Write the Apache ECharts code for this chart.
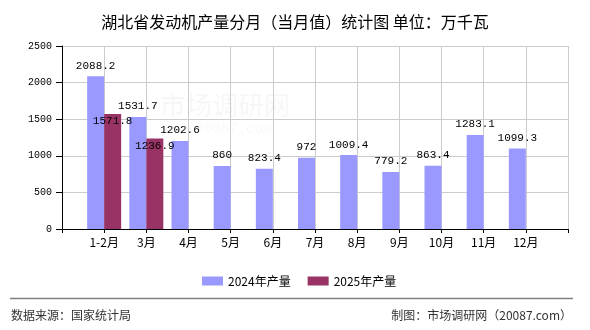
<!DOCTYPE html>
<html>
<head>
<meta charset="utf-8">
<script src="https://cdn.jsdelivr.net/npm/echarts@6/dist/echarts.min.js"></script>
<style>
  html, body { margin: 0; padding: 0; background: #fff; }
  #chart { width: 590px; height: 330px; }
</style>
</head>
<body>
<div id="chart"></div>
<script>
// Monthly engine output, Hubei province (10k kW)
const months = ['1-2月', '3月', '4月', '5月', '6月', '7月', '8月', '9月', '10月', '11月', '12月'];
const output2024 = [2088.2, 1531.7, 1202.6, 860, 823.4, 972, 1009.4, 779.2, 863.4, 1283.1, 1099.3];
const output2025 = [1571.8, 1236.9];
const seriesNames = ['2024年产量', '2025年产量'];
const yTicks = { min: 0, max: 2500, interval: 500 };

const CJK = '"Noto Sans CJK SC", sans-serif';
const NUM = '"Liberation Mono", monospace';

// blank slots at both ends so each month sits on a grid line
const axisCats = [''].concat(months, ['']);
function padded(values) {
  const out = [null];
  for (let i = 0; i < months.length; i++) out.push(i < values.length ? values[i] : null);
  out.push(null);
  return out;
}

const chart = echarts.init(document.getElementById('chart'), null, { renderer: 'canvas' });
chart.setOption({
  animation: false,
  backgroundColor: '#ffffff',
  title: {
    text: '湖北省发动机产量分月（当月值）统计图 单位：万千瓦',
    left: 'center',
    top: 9,
    textStyle: { fontFamily: CJK, fontSize: 16, fontWeight: 'normal', color: '#000' }
  },
  legend: {
    left: 197,
    top: 270,
    itemWidth: 21,
    itemHeight: 9,
    itemGap: 17,
    icon: 'rect',
    textStyle: { fontFamily: CJK, fontSize: 12, color: '#000' },
    data: seriesNames
  },
  grid: { left: 62, right: 22, top: 46, bottom: 101, containLabel: false },
  xAxis: {
    type: 'category',
    data: axisCats,
    boundaryGap: false,
    axisLine: { lineStyle: { color: '#000', width: 1 } },
    axisTick: { show: true, length: 4, lineStyle: { color: '#000' } },
    axisLabel: { interval: 0, margin: 7, fontFamily: CJK, fontSize: 12, color: '#000' },
    splitLine: { show: true, lineStyle: { color: '#cccccc', width: 1 } }
  },
  yAxis: {
    type: 'value',
    min: yTicks.min,
    max: yTicks.max,
    interval: yTicks.interval,
    axisLine: { show: true, lineStyle: { color: '#000', width: 1 } },
    axisTick: { show: true, length: 6, lineStyle: { color: '#000' } },
    axisLabel: {
      margin: 10, fontFamily: NUM, fontSize: 10, color: '#000',
      formatter: function (v) { return String(v); }
    },
    splitLine: { show: true, lineStyle: { color: '#cccccc', width: 1 } }
  },
  graphic: [
    {
      type: 'text', left: 160, top: 92, silent: true, z: 0,
      style: { text: '市场调研网', fontFamily: CJK, fontSize: 26, fill: 'rgba(0,0,0,0.035)' }
    },
    {
      type: 'text', left: 162, top: 122, silent: true, z: 0,
      style: { text: 'www.20087.com', fontFamily: NUM, fontSize: 14, fill: 'rgba(0,0,0,0.03)' }
    },
    {
      type: 'line', silent: true,
      shape: { x1: 10, y1: 298.5, x2: 573, y2: 298.5 },
      style: { stroke: '#808080', lineWidth: 1.5 }
    },
    {
      type: 'text', left: 11, top: 309,
      style: { text: '数据来源：国家统计局', fontFamily: CJK, fontSize: 12, fill: '#333' }
    },
    {
      type: 'text', right: 18, top: 309,
      style: { text: '制图：市场调研网（20087.com）', fontFamily: CJK, fontSize: 12, fill: '#333' }
    }
  ],
  series: [
    {
      name: seriesNames[0],
      type: 'bar',
      data: padded(output2024),
      barWidth: 17,
      barGap: '0%',
      itemStyle: { color: '#9999ff' },
      label: { show: true, position: 'top', distance: 5, fontFamily: NUM, fontSize: 11, color: '#000' }
    },
    {
      name: seriesNames[1],
      type: 'bar',
      data: padded(output2025),
      barWidth: 17,
      barGap: '0%',
      itemStyle: { color: '#993366' },
      label: { show: true, position: 'insideTop', distance: 2, fontFamily: NUM, fontSize: 11, color: '#000' }
    }
  ]
});
</script>
</body>
</html>
